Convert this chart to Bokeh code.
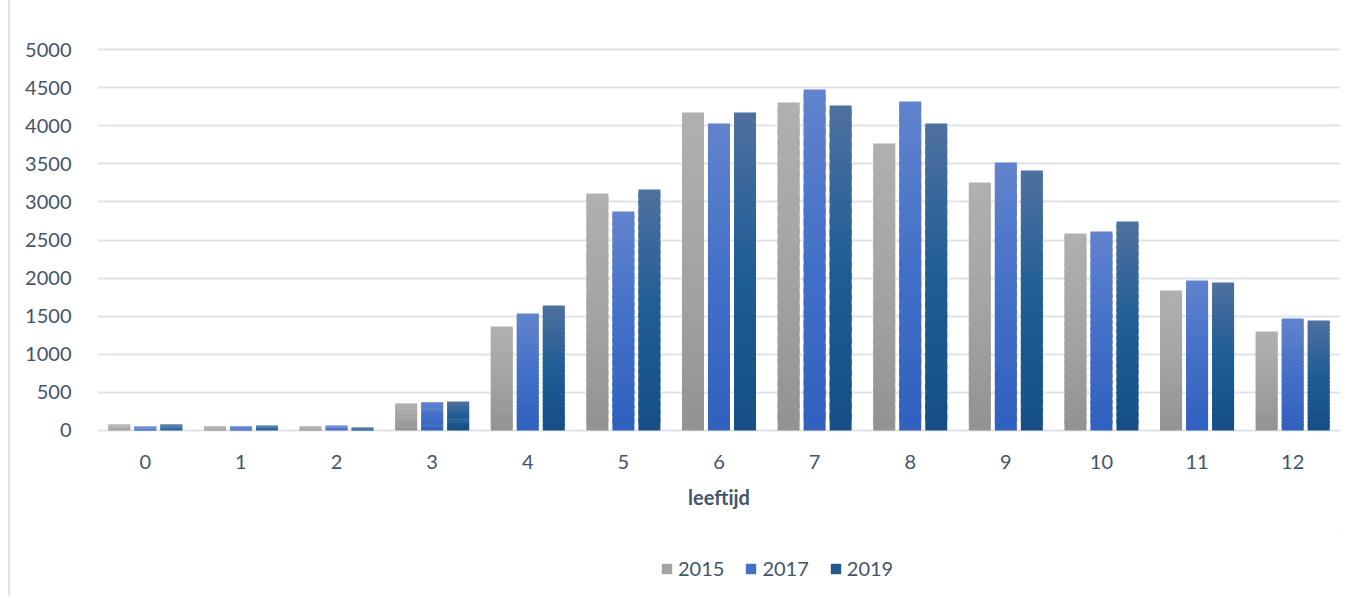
from bokeh.plotting import figure
from bokeh.layouts import column
from bokeh.models import (FactorRange, Range1d, ColumnDataSource, Legend, LegendItem,
                          FixedTicker)
from bokeh.transform import dodge
from bokeh.embed import file_html
from bokeh.resources import INLINE

ages = ["0", "1", "2", "3", "4", "5", "6", "7", "8", "9", "10", "11", "12"]
years = ["2015", "2017", "2019"]
v2015 = [80, 55, 55, 355, 1365, 3110, 4173, 4304, 3766, 3255, 2585, 1837, 1299]
v2017 = [52, 55, 65, 370, 1535, 2874, 4029, 4475, 4318, 3517, 2611, 1969, 1470]
v2019 = [80, 65, 40, 380, 1640, 3163, 4173, 4265, 4029, 3412, 2743, 1942, 1444]
y_ticks = [0, 500, 1000, 1500, 2000, 2500, 3000, 3500, 4000, 4500, 5000]

# gradient stops (top, middle, bottom)
grad = {
    "2015": [(176, 176, 176), (164, 164, 164), (146, 146, 146)],
    "2017": [(98, 131, 205), (67, 112, 200), (48, 96, 190)],
    "2019": [(79, 113, 159), (31, 93, 149), (22, 78, 134)],
}
legend_col = {"2015": "#a3a3a3", "2017": "#4470c8", "2019": "#21598f"}
TXT = "#44546A"
FONT = "Lato"

p = figure(x_range=FactorRange(*ages, range_padding=0), y_range=Range1d(-40, 5040),
           width=1346, height=530, output_backend="svg", toolbar_location=None,
           min_border_left=87, min_border_right=16, min_border_top=46, min_border_bottom=97)
p.outline_line_color = None
p.background_fill_color = "white"
p.border_fill_color = "white"
p.xgrid.grid_line_color = None
p.ygrid.grid_line_color = "#e0e4ea"
p.ygrid.grid_line_width = 2
p.yaxis.ticker = FixedTicker(ticks=y_ticks)

for ax in (p.xaxis, p.yaxis):
    ax.axis_line_color = None
    ax.major_tick_line_color = None
    ax.minor_tick_line_color = None
    ax.major_label_text_color = TXT
    ax.major_label_text_font = FONT
    ax.major_label_text_font_size = "20px"
p.yaxis.major_label_standoff = 20
p.xaxis.major_label_standoff = 15
p.xaxis.axis_label = "leeftijd"
p.xaxis.axis_label_text_font = FONT
p.xaxis.axis_label_text_font_style = "bold"
p.xaxis.axis_label_text_font_size = "20px"
p.xaxis.axis_label_text_color = TXT
p.xaxis.axis_label_standoff = 13


def lerp(c0, c1, t):
    return tuple(int(round(a + (b - a) * t)) for a, b in zip(c0, c1))


def color_at(stops, t):  # t=0 top, t=1 bottom
    if t <= 0.5:
        c = lerp(stops[0], stops[1], t / 0.5)
    else:
        c = lerp(stops[1], stops[2], (t - 0.5) / 0.5)
    return "#%02x%02x%02x" % c


N = 30
offsets = {"2015": -0.272, "2017": 0.0, "2019": 0.272}
series = {"2015": v2015, "2017": v2017, "2019": v2019}
for yr in years:
    xs, bots, tops, cols = [], [], [], []
    for a, v in zip(ages, series[yr]):
        for i in range(N):
            xs.append(a)
            bots.append(v * i / N)
            tops.append(v * min(i + 1.6, N) / N)
            cols.append(color_at(grad[yr], 1 - (i + 0.5) / N))
    src = ColumnDataSource(dict(x=xs, bottom=bots, top=tops, color=cols))
    p.vbar(x=dodge("x", offsets[yr], range=p.x_range), bottom="bottom", top="top", width=0.23,
           fill_color="color", line_color=None, source=src)

# legend strip below the chart
lf = figure(width=1346, height=66, output_backend="svg", toolbar_location=None,
            x_range=Range1d(0, 1), y_range=Range1d(0, 1),
            x_axis_location=None, y_axis_location=None,
            min_border_left=0, min_border_right=0, min_border_top=0, min_border_bottom=0)
lf.outline_line_color = None
lf.grid.visible = False
items = []
for yr in years:
    r = lf.vbar(x=[5], bottom=[4], top=[5], width=0.1, fill_color=legend_col[yr], line_color=None)
    items.append(LegendItem(label=yr, renderers=[r]))
legend = Legend(items=items, orientation="horizontal", location=(563, 16),
                label_text_font=FONT, label_text_font_size="20px", label_text_color=TXT,
                glyph_width=13, glyph_height=13, spacing=20, padding=0, margin=0,
                label_standoff=5, border_line_color=None, background_fill_alpha=0)
lf.add_layout(legend, "center")

layout = column(p, lf, styles={"margin-left": "8px", "border-left": "2px solid #dfe3e8"})

open("out.html", "w").write(file_html(layout, INLINE))
